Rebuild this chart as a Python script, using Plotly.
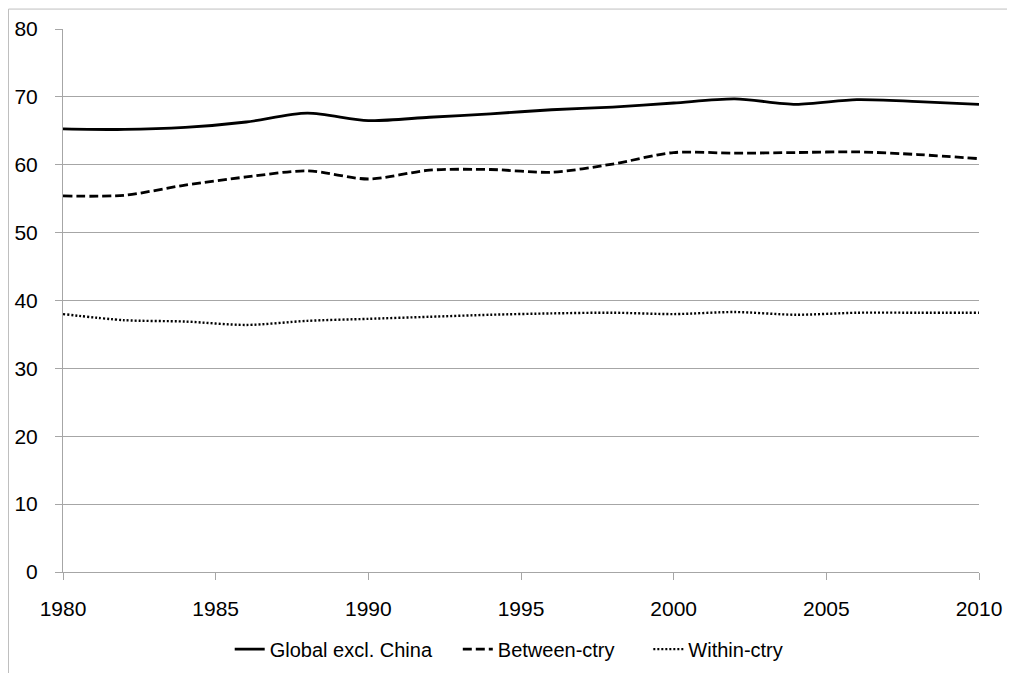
import plotly.graph_objs as go

years = [1980, 1982, 1984, 1986, 1988, 1990, 1992, 1994, 1996, 1998,
         2000, 2002, 2004, 2006, 2008, 2010]
global_excl_china = [65.3, 65.2, 65.5, 66.3, 67.6, 66.5, 67.0, 67.5, 68.1, 68.5,
                     69.1, 69.7, 68.9, 69.6, 69.3, 68.9]
between_ctry = [55.4, 55.5, 57.0, 58.2, 59.1, 57.9, 59.2, 59.3, 58.9, 60.1,
                61.8, 61.7, 61.8, 61.9, 61.5, 60.9]
within_ctry = [38.0, 37.1, 36.9, 36.4, 37.0, 37.3, 37.6, 37.9, 38.1, 38.2,
               38.0, 38.3, 37.9, 38.2, 38.2, 38.2]

y_ticks = [0, 10, 20, 30, 40, 50, 60, 70, 80]
x_ticks = [1980, 1985, 1990, 1995, 2000, 2005, 2010]

grid = '#a6a6a6'
font = 'Liberation Sans, Arial'

data = [
    go.Scatter(x=years, y=global_excl_china, name='Global excl. China',
               mode='lines', legend='legend',
               line=dict(color='black', width=2.8, shape='spline', smoothing=0.8)),
    go.Scatter(x=years, y=between_ctry, name='Between-ctry',
               mode='lines', legend='legend2',
               line=dict(color='black', width=2.8, dash='9px,4px',
                         shape='spline', smoothing=0.8)),
    go.Scatter(x=years, y=within_ctry, name='Within-ctry',
               mode='lines', legend='legend3',
               line=dict(color='black', width=2.4, dash='2px,2px',
                         shape='spline', smoothing=0.8)),
]

# one legend box per series so the entries sit where the original has them
leg = dict(orientation='h', xanchor='left', y=-0.142, yanchor='middle',
           font=dict(size=20), bgcolor='rgba(0,0,0,0)')

# the page puts the figure 8px in from the corner, so margins are trimmed by that
layout = go.Layout(
    width=1015, height=673,
    margin=dict(l=55, r=44, t=21, b=105),
    paper_bgcolor='white', plot_bgcolor='white',
    font=dict(family=font, color='black'),
    xaxis=dict(
        range=[1980, 2010], tickvals=x_ticks, showgrid=False,
        showline=True, linecolor=grid, linewidth=1, automargin=False,
        ticks='outside', ticklen=7, tickcolor=grid, ticklabelstandoff=11,
        tickfont=dict(size=21), zeroline=False
    ),
    yaxis=dict(
        range=[0, 80], tickvals=y_ticks, showgrid=True, gridcolor=grid,
        gridwidth=1, showline=True, linecolor=grid, linewidth=1, automargin=False,
        ticks='outside', ticklen=7, tickcolor=grid, ticklabelstandoff=13,
        tickfont=dict(size=21), zeroline=False
    ),
    legend=dict(leg, x=0.182),
    legend2=dict(leg, x=0.431),
    legend3=dict(leg, x=0.639),
    showlegend=True,
    shapes=[dict(type='rect', xref='paper', yref='paper',
                 x0=-0.0595, x1=1.2, y0=-0.3, y1=1.0367,
                 line=dict(color='#bfbfbf', width=1), layer='below')],
)

fig = go.Figure(data=data, layout=layout)
fig.write_html("out.html")
